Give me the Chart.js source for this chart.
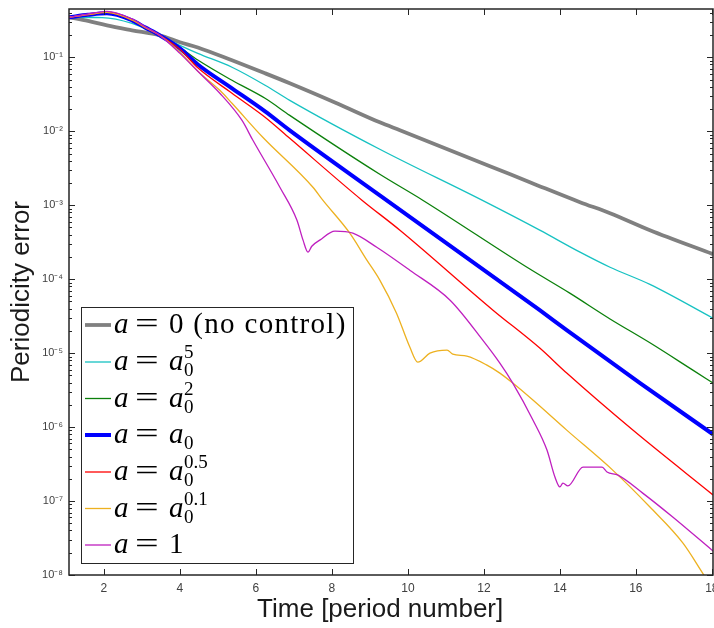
<!DOCTYPE html>
<html>
<head>
<meta charset="utf-8">
<script src="https://cdn.jsdelivr.net/npm/chart.js@4.4.0/dist/chart.umd.min.js"></script>
<style>
    html, body { margin: 0; padding: 0; background: #fff; }
</style>
</head>
<body>
<canvas id="chartPeriodicityError" width="714" height="628"></canvas>
<script>
// a = 0 (no control)
const tiempoA0 = [1.08, 1.58, 2.08, 2.74, 3.47, 4.0, 4.47, 5.37, 6.24, 6.89, 8.08, 9.26, 9.79, 12.16, 13.21, 14.53, 15.32, 16.37, 18.03];
const errorA0 = [0.348, 0.31, 0.270, 0.232, 0.198, 0.160, 0.136, 0.091, 0.0608, 0.0446, 0.0245, 0.0132, 0.0103, 0.00337, 0.00205, 0.00110, 7.8e-4, 4.59e-4, 2.18e-4];

// a = a0^5
const tiempoP5 = [1.08, 1.95, 2.74, 3.47, 4.0, 4.47, 5.37, 6.24, 6.89, 9.26, 11.95, 13.47, 14.53, 15.32, 16.37, 18.03];
const errorP5 = [0.348, 0.345, 0.288, 0.198, 0.145, 0.113, 0.0733, 0.0419, 0.0262, 0.00571, 0.00117, 4.6e-4, 2.32e-4, 1.45e-4, 8.5e-5, 2.97e-5];

// a = a0^2
const tiempoP2 = [1.08, 1.58, 2.08, 2.74, 3.08, 3.47, 4.0, 4.47, 5.37, 6.24, 6.89, 9.26, 10.39, 13.21, 14.26, 15.32, 16.37, 17.5, 18.03];
const errorP2 = [0.348, 0.375, 0.393, 0.316, 0.254, 0.198, 0.136, 0.092, 0.0489, 0.0279, 0.0164, 0.00262, 0.00117, 1.37e-4, 6.47e-5, 2.9e-5, 1.38e-5, 5.89e-6, 3.94e-6];

// a = a0
const tiempoP1 = [1.08, 1.58, 2.08, 2.74, 3.08, 3.47, 4.0, 4.47, 5.37, 6.24, 6.89, 9.26, 13.47, 14.18, 16.11, 18.03];
const errorP1 = [0.348, 0.375, 0.393, 0.316, 0.254, 0.198, 0.132, 0.08, 0.0381, 0.0186, 0.0103, 0.00136, 3.81e-5, 2.05e-5, 3.94e-6, 8.0e-7];

// a = a0^0.5
const tiempoP05 = [1.08, 1.58, 2.08, 2.74, 3.08, 3.47, 4.0, 4.47, 5.37, 6.24, 6.89, 8.79, 9.79, 12.24, 13.47, 14.18, 15.92, 18.03];
const errorP05 = [0.348, 0.378, 0.405, 0.32, 0.254, 0.198, 0.128, 0.072, 0.0327, 0.0155, 0.00803, 0.00117, 4.59e-4, 3.81e-5, 1.17e-5, 5.37e-6, 9.1e-7, 1.21e-7];

// a = a0^0.1
const tiempoP01 = [1.08, 1.58, 2.08, 2.74, 3.08, 3.47, 4.0, 4.47, 5.05, 5.37, 6.18, 7.5, 7.76, 8.47, 8.92, 9.26, 9.7, 10.05, 10.26, 10.58, 11.03, 11.18, 11.55, 12.08, 12.42, 12.76, 13.29, 14.18, 15.39, 16.37, 17.24, 17.79, 18.03];
const errorP01 = [0.348, 0.378, 0.405, 0.32, 0.254, 0.198, 0.117, 0.065, 0.0358, 0.0239, 0.0083, 0.00175, 0.00117, 4.19e-4, 1.81e-4, 9.7e-5, 3.47e-5, 1.21e-5, 7.55e-6, 1.0e-5, 1.1e-5, 9.7e-6, 9.1e-6, 6.89e-6, 5.37e-6, 3.94e-6, 2.32e-6, 9.1e-7, 2.62e-7, 8.3e-8, 2.7e-8, 1.0e-8, 6.5e-9];

// a = 1
const tiempoUno = [1.08, 1.58, 2.08, 2.74, 3.08, 3.47, 4.0, 4.47, 5.05, 5.63, 5.92, 6.63, 7.08, 7.24, 7.37, 7.47, 7.68, 8.08, 8.55, 9.18, 10.05, 11.11, 11.97, 12.42, 12.76, 13.29, 13.66, 13.87, 14.0, 14.08, 14.21, 14.61, 15.11, 15.24, 15.53, 16.18, 16.97, 18.03];
const errorUno = [0.348, 0.385, 0.419, 0.33, 0.26, 0.198, 0.113, 0.0647, 0.0327, 0.0141, 0.00755, 0.00175, 6.27e-4, 3.37e-4, 2.32e-4, 2.79e-4, 3.37e-4, 4.46e-4, 4.19e-4, 2.7e-4, 1.32e-4, 5.2e-5, 1.5e-5, 7.33e-6, 3.94e-6, 1.25e-6, 4.89e-7, 2.11e-7, 1.55e-7, 1.75e-7, 1.6e-7, 2.88e-7, 2.88e-7, 2.47e-7, 2.24e-7, 1.28e-7, 6.08e-8, 2.11e-8];

const tiemposSeries = [tiempoA0, tiempoP5, tiempoP2, tiempoP1, tiempoP05, tiempoP01, tiempoUno];
const erroresSeries = [errorA0, errorP5, errorP2, errorP1, errorP05, errorP01, errorUno];

const nombresSeries = ["a = 0 (no control)", "a = a0^5", "a = a0^2", "a = a0", "a = a0^0.5", "a = a0^0.1", "a = 1"];
const leyendaBase = ["0 (no control)", "a", "a", "a", "a", "a", "1"];
const leyendaSub = ["", "0", "0", "0", "0", "0", ""];
const leyendaSup = ["", "5", "2", "", "0.5", "0.1", ""];

const colores = ["#808080", "#17C2C2", "#0B800B", "#0000FF", "#FF0000", "#EDB120", "#BF1FBF"];
const grosores = [3.8, 1.3, 1.3, 4, 1.3, 1.3, 1.3];

const ticksX = [2, 4, 6, 8, 10, 12, 14, 16, 18];
const superDigitos = { "-": "\u207B", "0": "\u2070", "1": "\u00B9", "2": "\u00B2", "3": "\u00B3", "4": "\u2074", "5": "\u2075", "6": "\u2076", "7": "\u2077", "8": "\u2078", "9": "\u2079" };

function esPotenciaDiez(v) {
    const e = Math.log10(v);
    return Math.abs(e - Math.round(e)) < 1e-6;
}

function esTickMenor(v) {
    const m = v / Math.pow(10, Math.floor(Math.log10(v) + 1e-9));
    return Math.abs(m - Math.round(m)) < 1e-6;
}

const marcoEjes = {
    id: "marcoEjes",
    afterDatasetsDraw(chart) {
        const { ctx, chartArea, scales } = chart;
        const { left, right, top, bottom } = chartArea;
        ctx.save();
        ctx.strokeStyle = "#262626";
        ctx.lineWidth = 1;
        ctx.beginPath();
        scales.x.ticks.forEach(t => {
            const px = Math.round(scales.x.getPixelForValue(t.value)) + 0.5;
            ctx.moveTo(px, bottom);
            ctx.lineTo(px, bottom - 6);
            ctx.moveTo(px, top);
            ctx.lineTo(px, top + 6);
        });
        scales.y.ticks.forEach(t => {
            if (!esTickMenor(t.value)) return;
            const py = Math.round(scales.y.getPixelForValue(t.value)) + 0.5;
            if (py < top || py > bottom + 1) return;
            const largo = esPotenciaDiez(t.value) ? 6 : 3;
            ctx.moveTo(left, py);
            ctx.lineTo(left + largo, py);
            ctx.moveTo(right, py);
            ctx.lineTo(right - largo, py);
        });
        ctx.stroke();
        ctx.lineWidth = 1.5;
        ctx.strokeRect(left, top, right - left, bottom - top);
        ctx.restore();
    }
};

const leyendaMath = {
    id: "leyendaMath",
    afterDraw(chart) {
        const ctx = chart.ctx;
        const caja = { x: 81.5, y: 307.5, w: 272, h: 256 };
        const filaY = [325, 362, 398.5, 435, 472, 508.5, 545];
        const fuente = "Liberation Serif";
        ctx.save();
        ctx.fillStyle = "#ffffff";
        ctx.fillRect(caja.x, caja.y, caja.w, caja.h);
        ctx.strokeStyle = "#262626";
        ctx.lineWidth = 1;
        ctx.strokeRect(caja.x, caja.y, caja.w, caja.h);

        ctx.fillStyle = "#000000";
        ctx.textBaseline = "alphabetic";
        ctx.textAlign = "left";
        filaY.forEach((y, i) => {
            ctx.strokeStyle = colores[i];
            ctx.lineWidth = grosores[i];
            ctx.beginPath();
            ctx.moveTo(85, y);
            ctx.lineTo(111, y);
            ctx.stroke();

            const base = y + 8;
            ctx.font = "italic 29px " + fuente;
            ctx.fillText("a", 114, base);

            ctx.save();
            ctx.font = "29px " + fuente;
            ctx.translate(135, base);
            ctx.scale(1.45, 1);
            ctx.fillText("=", 0, 0);
            ctx.restore();

            if (leyendaBase[i] === "a") {
                ctx.font = "italic 29px " + fuente;
                ctx.fillText("a", 169, base);
                const xs = 169 + ctx.measureText("a").width + 0.5;
                ctx.font = "19px " + fuente;
                if (leyendaSub[i]) ctx.fillText(leyendaSub[i], xs, base + 6);
                if (leyendaSup[i]) ctx.fillText(leyendaSup[i], xs, base - 12);
            } else {
                ctx.font = "29px " + fuente;
                ctx.letterSpacing = "1.3px";
                ctx.fillText(leyendaBase[i], 169, base);
                ctx.letterSpacing = "0px";
            }
        });
        ctx.restore();
    }
};

document.addEventListener("DOMContentLoaded", () => {
    const ctx = document.getElementById("chartPeriodicityError");

    if (!ctx) {
        console.error("Canvas element 'chartPeriodicityError' not found");
        return;
    }

    Chart.defaults.font.family = "'Liberation Sans', Arial, sans-serif";

    const datasets = nombresSeries.map((nombre, i) => ({
        label: nombre,
        data: tiemposSeries[i].map((t, j) => ({ x: t, y: erroresSeries[i][j] })),
        borderColor: colores[i],
        backgroundColor: colores[i],
        borderWidth: grosores[i],
        pointRadius: 0,
        fill: false,
        cubicInterpolationMode: "monotone",
        order: nombresSeries.length - i
    }));

    new Chart(ctx, {
        type: "line",
        data: { datasets: datasets },
        options: {
            responsive: false,
            animation: false,
            devicePixelRatio: 1,
            layout: { padding: { top: 9, right: 1, left: 0, bottom: 0 } },
            plugins: {
                legend: { display: false },
                tooltip: { enabled: false }
            },
            scales: {
                x: {
                    type: "linear",
                    min: 1.08,
                    max: 18.03,
                    afterBuildTicks: scale => {
                        scale.ticks = ticksX.map(v => ({ value: v }));
                    },
                    afterFit: scale => {
                        scale.height = 53;
                        scale.paddingLeft = 0;
                        scale.paddingRight = 0;
                    },
                    grid: { display: false, drawTicks: false },
                    border: { display: false },
                    ticks: {
                        padding: 6,
                        color: "#404040",
                        font: { size: 12 },
                        maxRotation: 0,
                        autoSkip: false
                    },
                    title: {
                        display: true,
                        text: "Time [period number]\u00A0\u00A0\u00A0",
                        color: "#1a1a1a",
                        font: { size: 26 },
                        padding: { top: 0, bottom: 3 }
                    }
                },
                y: {
                    type: "logarithmic",
                    min: 1e-8,
                    max: 0.45,
                    afterFit: scale => {
                        scale.width = 69;
                        scale.paddingTop = 0;
                        scale.paddingBottom = 0;
                    },
                    grid: { display: false, drawTicks: false },
                    border: { display: false },
                    ticks: {
                        padding: 6,
                        color: "#404040",
                        font: { size: 11 },
                        autoSkip: false,
                        callback: value => {
                            if (!esPotenciaDiez(value)) return "";
                            const e = String(Math.round(Math.log10(value)));
                            return "10" + e.split("").map(c => superDigitos[c]).join("");
                        }
                    },
                    title: {
                        display: true,
                        text: "Periodicity error",
                        color: "#1a1a1a",
                        font: { size: 26 },
                        padding: { top: 6, bottom: 0 }
                    }
                }
            }
        },
        plugins: [marcoEjes, leyendaMath]
    });
});
</script>
</body>
</html>
